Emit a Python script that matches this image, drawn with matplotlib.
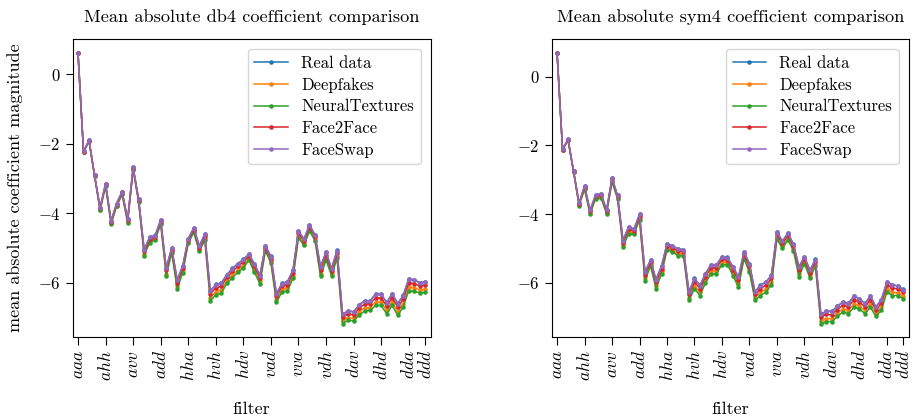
import numpy as np
import matplotlib
matplotlib.use("Agg")
import matplotlib.pyplot as plt

plt.rcParams['font.family'] = 'cmr10'
plt.rcParams['mathtext.fontset'] = 'cm'
plt.rcParams['axes.formatter.use_mathtext'] = True
plt.rcParams['font.size'] = 12
plt.rcParams['axes.titlesize'] = 13.2
plt.rcParams['axes.labelsize'] = 13
plt.rcParams['xtick.labelsize'] = 12.5
plt.rcParams['ytick.labelsize'] = 12
plt.rcParams['legend.fontsize'] = 12
plt.rcParams['xtick.major.size'] = 6
plt.rcParams['ytick.major.size'] = 5

# wavelet packet filters, level 3
letters = ['a', 'h', 'v', 'd']
filters = [a + b + c for a in letters for b in letters for c in letters]
tick_pos = list(range(0, 64, 5)) + [63]
tick_labels = ['$' + filters[i] + '$' for i in tick_pos]

labels = ['Real data', 'Deepfakes', 'NeuralTextures', 'Face2Face', 'FaceSwap']

# mean absolute log coefficient magnitude, db4
db4_real = [0.61, -2.22, -1.90, -2.90, -3.84, -3.15, -4.22, -3.72, -3.38, -4.17, -2.68, -3.60,
            -5.04, -4.69, -4.64, -4.19, -5.57, -5.00, -5.92, -5.51, -4.73, -4.42, -4.94, -4.60,
            -6.24, -6.05, -6.01, -5.77, -5.59, -5.45, -5.33, -5.18, -5.45, -5.79, -4.94, -5.24,
            -6.32, -6.02, -5.97, -5.64, -4.51, -4.74, -4.34, -4.62, -5.54, -5.12, -5.59, -5.07,
            -6.91, -6.81, -6.84, -6.64, -6.52, -6.52, -6.33, -6.33, -6.57, -6.32, -6.60, -6.37,
            -5.89, -5.92, -6.00, -5.97]
db4_deepfakes = [0.61, -2.23, -1.92, -2.92, -3.90, -3.20, -4.28, -3.78, -3.44, -4.24, -2.73, -3.66,
                 -5.17, -4.81, -4.73, -4.28, -5.74, -5.10, -6.11, -5.65, -4.83, -4.51, -5.06, -4.72,
                 -6.45, -6.26, -6.22, -5.95, -5.78, -5.63, -5.51, -5.30, -5.63, -5.96, -5.04, -5.38,
                 -6.50, -6.20, -6.16, -5.81, -4.65, -4.88, -4.46, -4.74, -5.74, -5.28, -5.74, -5.23,
                 -7.10, -7.01, -7.03, -6.85, -6.73, -6.72, -6.56, -6.56, -6.80, -6.56, -6.84, -6.61,
                 -6.13, -6.15, -6.21, -6.19]
db4_neural = [0.61, -2.24, -1.93, -2.93, -3.92, -3.22, -4.31, -3.80, -3.46, -4.27, -2.75, -3.68,
              -5.22, -4.85, -4.77, -4.31, -5.81, -5.14, -6.19, -5.71, -4.87, -4.55, -5.10, -4.77,
              -6.53, -6.35, -6.31, -6.02, -5.86, -5.70, -5.58, -5.35, -5.70, -6.03, -5.08, -5.44,
              -6.57, -6.27, -6.24, -5.88, -4.71, -4.93, -4.51, -4.79, -5.82, -5.35, -5.80, -5.30,
              -7.18, -7.09, -7.10, -6.94, -6.82, -6.80, -6.66, -6.66, -6.90, -6.66, -6.94, -6.71,
              -6.23, -6.25, -6.30, -6.28]
db4_f2f = [0.61, -2.23, -1.91, -2.91, -3.86, -3.17, -4.25, -3.74, -3.40, -4.20, -2.70, -3.62,
           -5.10, -4.75, -4.69, -4.23, -5.65, -5.05, -6.01, -5.58, -4.78, -4.47, -5.00, -4.66,
           -6.33, -6.15, -6.11, -5.85, -5.68, -5.53, -5.41, -5.24, -5.53, -5.87, -4.99, -5.31,
           -6.40, -6.10, -6.06, -5.72, -4.58, -4.80, -4.40, -4.68, -5.63, -5.20, -5.66, -5.15,
           -7.00, -6.90, -6.93, -6.74, -6.62, -6.61, -6.44, -6.44, -6.68, -6.43, -6.71, -6.48,
           -6.00, -6.03, -6.10, -6.07]
db4_faceswap = [0.61, -2.22, -1.90, -2.90, -3.84, -3.15, -4.22, -3.72, -3.38, -4.17, -2.68, -3.60,
                -5.05, -4.70, -4.65, -4.20, -5.58, -5.01, -5.93, -5.52, -4.74, -4.43, -4.95, -4.61,
                -6.25, -6.06, -6.02, -5.78, -5.60, -5.46, -5.34, -5.19, -5.46, -5.80, -4.95, -5.25,
                -6.33, -6.03, -5.98, -5.65, -4.52, -4.75, -4.35, -4.63, -5.55, -5.13, -5.60, -5.08,
                -6.92, -6.82, -6.85, -6.65, -6.53, -6.53, -6.34, -6.34, -6.58, -6.33, -6.61, -6.38,
                -5.90, -5.93, -6.01, -5.98]

# mean absolute log coefficient magnitude, sym4
sym4_real = [0.70, -2.11, -1.82, -2.74, -3.67, -3.18, -3.88, -3.45, -3.40, -3.88, -2.95, -3.45,
             -4.76, -4.37, -4.43, -4.00, -5.68, -5.34, -5.90, -5.51, -4.86, -4.92, -5.01, -5.03,
             -6.26, -5.87, -6.07, -5.73, -5.47, -5.47, -5.24, -5.26, -5.53, -5.83, -5.10, -5.44,
             -6.26, -6.07, -5.97, -5.78, -4.51, -4.78, -4.55, -4.87, -5.53, -5.24, -5.63, -5.32,
             -6.91, -6.82, -6.83, -6.68, -6.55, -6.60, -6.38, -6.46, -6.60, -6.38, -6.70, -6.49,
             -5.97, -6.05, -6.09, -6.19]
sym4_deepfakes = [0.70, -2.12, -1.84, -2.76, -3.73, -3.25, -3.97, -3.52, -3.48, -3.96, -3.03, -3.52,
                  -4.90, -4.51, -4.55, -4.12, -5.87, -5.46, -6.09, -5.67, -4.99, -5.04, -5.15, -5.16,
                  -6.43, -6.08, -6.28, -5.92, -5.66, -5.66, -5.40, -5.41, -5.72, -6.04, -5.24, -5.62,
                  -6.43, -6.28, -6.18, -5.97, -4.67, -4.94, -4.69, -5.01, -5.74, -5.38, -5.79, -5.46,
                  -7.12, -7.04, -7.04, -6.89, -6.76, -6.81, -6.61, -6.67, -6.81, -6.61, -6.90, -6.71,
                  -6.18, -6.28, -6.29, -6.39]
sym4_neural = [0.70, -2.13, -1.85, -2.77, -3.75, -3.28, -4.00, -3.55, -3.52, -3.99, -3.06, -3.55,
               -4.96, -4.57, -4.59, -4.16, -5.95, -5.50, -6.17, -5.74, -5.04, -5.09, -5.21, -5.21,
               -6.50, -6.17, -6.37, -6.00, -5.74, -5.73, -5.47, -5.47, -5.79, -6.13, -5.30, -5.69,
               -6.50, -6.37, -6.27, -6.05, -4.73, -5.00, -4.75, -5.06, -5.82, -5.44, -5.86, -5.52,
               -7.20, -7.13, -7.13, -6.98, -6.85, -6.90, -6.71, -6.76, -6.90, -6.71, -6.98, -6.80,
               -6.27, -6.37, -6.37, -6.47]
sym4_f2f = [0.70, -2.12, -1.83, -2.75, -3.70, -3.21, -3.92, -3.48, -3.44, -3.92, -2.98, -3.48,
            -4.83, -4.44, -4.49, -4.06, -5.77, -5.40, -5.99, -5.59, -4.92, -4.98, -5.08, -5.09,
            -6.34, -5.97, -6.17, -5.82, -5.56, -5.56, -5.32, -5.33, -5.62, -5.93, -5.17, -5.52,
            -6.34, -6.17, -6.07, -5.87, -4.58, -4.85, -4.62, -4.93, -5.62, -5.31, -5.71, -5.39,
            -7.00, -6.92, -6.93, -6.78, -6.65, -6.70, -6.49, -6.56, -6.70, -6.49, -6.79, -6.59,
            -6.07, -6.15, -6.18, -6.28]
sym4_faceswap = [0.70, -2.11, -1.82, -2.74, -3.68, -3.18, -3.89, -3.45, -3.40, -3.89, -2.95, -3.45,
                 -4.77, -4.38, -4.44, -4.01, -5.69, -5.35, -5.91, -5.52, -4.87, -4.93, -5.02, -5.04,
                 -6.27, -5.88, -6.08, -5.74, -5.48, -5.48, -5.25, -5.27, -5.54, -5.84, -5.11, -5.45,
                 -6.27, -6.08, -5.98, -5.79, -4.52, -4.79, -4.56, -4.88, -5.54, -5.25, -5.64, -5.33,
                 -6.92, -6.83, -6.84, -6.69, -6.56, -6.61, -6.39, -6.47, -6.61, -6.39, -6.71, -6.50,
                 -5.98, -6.06, -6.10, -6.20]

panels = [
    ('Mean absolute db4 coefficient comparison',
     [db4_real, db4_deepfakes, db4_neural, db4_f2f, db4_faceswap], (-7.56, 1.02)),
    ('Mean absolute sym4 coefficient comparison',
     [sym4_real, sym4_deepfakes, sym4_neural, sym4_f2f, sym4_faceswap], (-7.57, 1.10)),
]

fig = plt.figure(figsize=(9.13, 4.18), dpi=100)
ax1 = fig.add_axes([0.0796, 0.1945, 0.392, 0.712])
ax2 = fig.add_axes([0.6043, 0.1945, 0.391, 0.712])

x = np.arange(len(filters))
for ax, (title, series, ylim) in zip([ax1, ax2], panels):
    for vals, lab in zip(series, labels):
        ax.plot(x, vals, '.-', label=lab, markersize=4.5, linewidth=1.1)
    ax.set_title(title, pad=12)
    ax.set_xticks(tick_pos)
    ax.set_xticklabels(tick_labels, rotation=90)
    ax.set_xlim(-0.97, 63.97)
    ax.set_ylim(*ylim)
    ax.set_yticks([0, -2, -4, -6])
    ax.set_xlabel('filter', labelpad=15)
    ax.legend(loc='upper right', handlelength=2.0, borderaxespad=0.6,
              labelspacing=0.38)

ax1.set_ylabel('mean absolute coefficient magnitude', labelpad=11)

fig.savefig('out.png', dpi=100)
